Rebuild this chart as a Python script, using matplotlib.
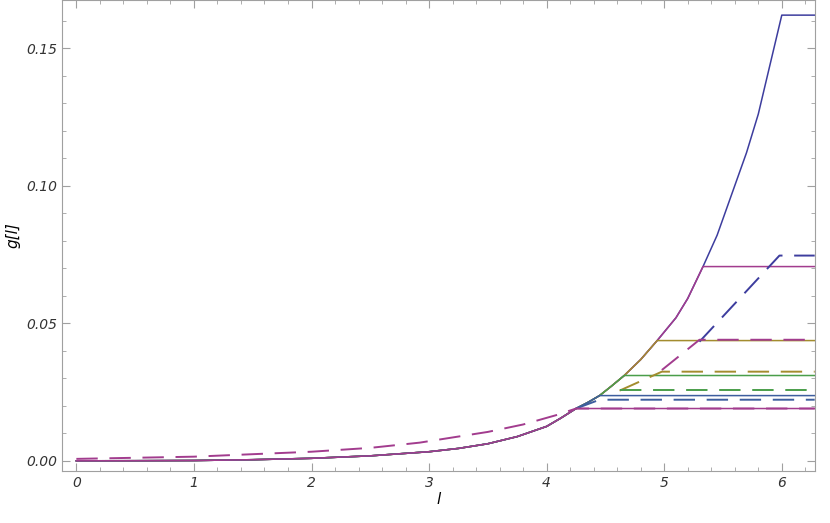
import numpy as np
import matplotlib.pyplot as plt
from matplotlib.ticker import MultipleLocator

# main solid curve (knots)
curve_l = [0, 0.5, 1, 1.5, 2, 2.5, 3, 3.25, 3.5, 3.75, 4, 4.12, 4.25, 4.35, 4.45, 4.55, 4.66, 4.8,
           4.94, 5.1, 5.2, 5.33, 5.45, 5.6, 5.7, 5.8, 5.9, 6.0]
curve_g = [0, 0.00003, 0.0001, 0.0004, 0.0009, 0.0018, 0.0033, 0.0045, 0.0062, 0.0088, 0.0125,
           0.0155, 0.019, 0.0212, 0.0237, 0.0271, 0.031, 0.0368, 0.0437, 0.052, 0.059, 0.0706,
           0.082, 0.100, 0.112, 0.126, 0.144, 0.162]
caps_l = [6.0, 5.33, 4.94, 4.66, 4.45, 4.25]
caps_g = [0.162, 0.0706, 0.0437, 0.031, 0.0237, 0.019]
solid_colors = ['#3d3d9e', '#a23c8e', '#a38c2e', '#4a9e4a', '#3d5e9e', '#a23c8e']

# dashed curve
dcurve_l = [0, 1, 2, 2.5, 2.92, 3.5, 3.8, 4.09, 4.25]
dcurve_g = [0.0007, 0.0015, 0.0033, 0.0047, 0.0066, 0.0105, 0.0132, 0.0167, 0.019]
# dashed branches: (start_l, start_g, end_l, level, colour)
dbranch = [
    (5.30, 0.0433, 5.98, 0.0746, '#3d3d9e'),
    (4.98, 0.0330, 5.30, 0.0440, '#a23c8e'),
    (4.62, 0.0255, 4.98, 0.0324, '#a38c2e'),
    (4.62, 0.0258, 4.62, 0.0258, '#4a9e4a'),
    (4.25, 0.0190, 4.45, 0.0222, '#3d5e9e'),
]
lmax = 6.28

fig, ax = plt.subplots(figsize=(8.3, 5.23), dpi=100)
fig.subplots_adjust(left=0.075, right=0.982, bottom=0.1, top=1.0)

for cl, cg, c in zip(caps_l, caps_g, solid_colors):
    xs = [x for x in curve_l if x <= cl] + [lmax]
    ys = [y for x, y in zip(curve_l, curve_g) if x <= cl] + [cg]
    ax.plot(xs, ys, color=c, lw=1.1)

dash = dict(lw=1.4, dashes=(11, 6))
for sl, sg, el, lev, c in dbranch:
    ax.plot([sl, el, lmax], [sg, lev, lev], color=c, **dash)
ax.plot(dcurve_l + [lmax], dcurve_g + [0.019], color='#a23c8e', **dash)

ax.set_xlim(-0.12, lmax + 0.003)
ax.set_ylim(-0.0036, 0.1675)
ax.xaxis.set_major_locator(MultipleLocator(1))
ax.xaxis.set_minor_locator(MultipleLocator(0.2))
ax.yaxis.set_major_locator(MultipleLocator(0.05))
ax.yaxis.set_minor_locator(MultipleLocator(0.01))
ax.yaxis.set_major_formatter(plt.FuncFormatter(lambda v, p: f'{v:.2f}'))
for s in ax.spines.values():
    s.set_color('#a0a0a0')
ax.tick_params(which='both', direction='in', colors='#a0a0a0', labelcolor='#333333', top=True, right=True)
ax.tick_params(which='major', length=6)
ax.tick_params(which='minor', length=3)
for t in ax.get_xticklabels() + ax.get_yticklabels():
    t.set_fontstyle('italic')
ax.set_xlabel('l', style='italic', fontsize=11, labelpad=2)
ax.set_ylabel('g[l]', style='italic', fontsize=11)
fig.savefig('out.png')
